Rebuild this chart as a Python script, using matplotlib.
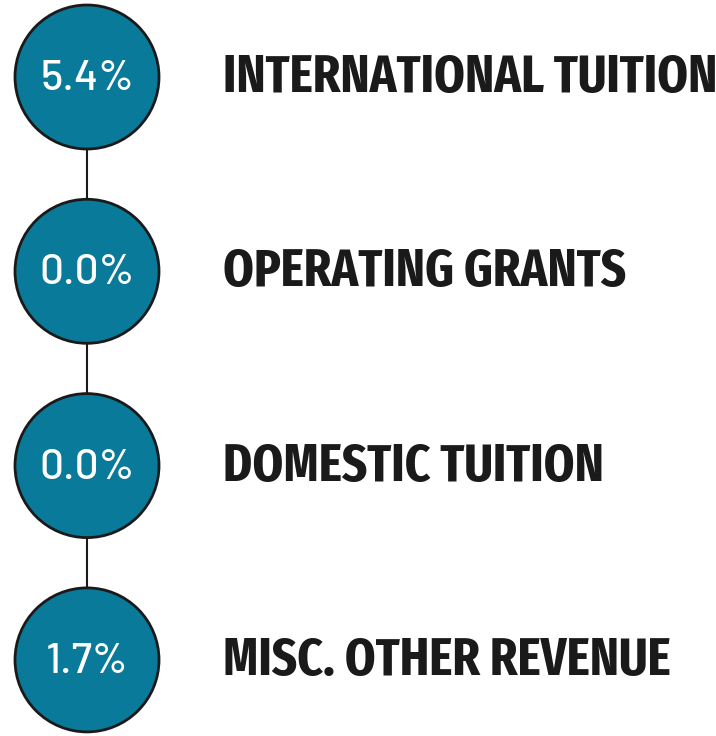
import matplotlib
matplotlib.use("Agg")
import matplotlib.pyplot as plt
from matplotlib.patches import Circle

categories = ["INTERNATIONAL TUITION", "OPERATING GRANTS", "DOMESTIC TUITION", "MISC. OTHER REVENUE"]
values = [5.4, 0.0, 0.0, 1.7]

W, H = 716, 736
fig = plt.figure(figsize=(W / 100, H / 100), dpi=100)
ax = fig.add_axes([0, 0, 1, 1])
ax.set_xlim(0, W)
ax.set_ylim(H, 0)
ax.set_aspect("equal")
ax.axis("off")

cx = 87
y0, dy = 77, 194.3
r = 72
teal = "#0a7a9a"

ys = [y0 + i * dy for i in range(len(values))]
ax.plot([cx, cx], [ys[0], ys[-1]], color="#1a1a1a", lw=1.5, zorder=1)
for y, v, lab in zip(ys, values, categories):
    ax.add_patch(Circle((cx, y), r, facecolor=teal, edgecolor="#1a1a1a", lw=2, zorder=2))
    ax.text(cx, y + 13, f"{v:.1f}%", color="white", fontsize=30.5, fontweight=500,
            family=["Barlow", "Roboto", "DejaVu Sans"],
            ha="center", va="baseline", zorder=3)
    ax.text(223, y + 15, lab, color="#1a1a1a", fontsize=38.4,
            family=["Fira Sans Extra Condensed", "Roboto Condensed", "DejaVu Sans"],
            fontweight="bold", ha="left", va="baseline", zorder=3)

fig.savefig("out.png", dpi=100)
